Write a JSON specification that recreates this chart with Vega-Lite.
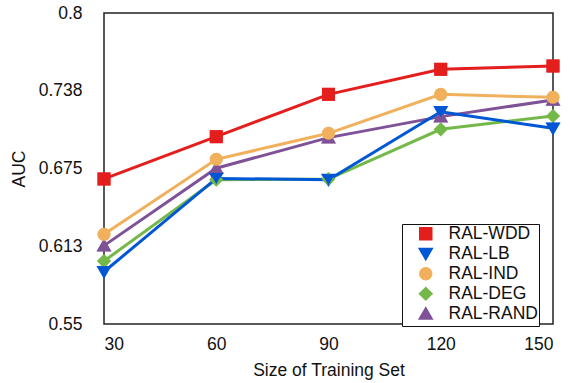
{
  "$schema": "https://vega.github.io/schema/vega-lite/v6.json",
  "autosize": {"type": "none"},
  "width": 449,
  "height": 311,
  "padding": {"left": 104, "top": 13, "right": 17, "bottom": 59},
  "background": "white",
  "config": {
    "view": {"stroke": "#222", "strokeWidth": 1.5},
    "font": "Liberation Sans",
    "axis": {
      "grid": false,
      "ticks": false,
      "domain": false,
      "labelFont": "Liberation Sans",
      "labelFontSize": 17.5,
      "labelColor": "#111",
      "titleFont": "Liberation Sans",
      "titleFontSize": 17.5,
      "titleFontWeight": "normal",
      "titleColor": "#111"
    },
    "legend": {
      "orient": "none",
      "legendX": 298,
      "legendY": 211,
      "padding": 1,
      "strokeColor": "#111",
      "fillColor": "white",
      "symbolSize": 110,
      "symbolStrokeWidth": 3,
      "symbolFillColor": "white",
      "symbolOffset": 14,
      "labelOffset": 14,
      "labelFont": "Liberation Sans",
      "labelFontSize": 17.5,
      "labelColor": "#111",
      "rowPadding": -3.1
    }
  },
  "data": {
    "values": [
      {"method": "RAL-RAND", "size": 30, "auc": 0.613},
      {"method": "RAL-RAND", "size": 60, "auc": 0.6752},
      {"method": "RAL-RAND", "size": 90, "auc": 0.6998},
      {"method": "RAL-RAND", "size": 120, "auc": 0.7167},
      {"method": "RAL-RAND", "size": 150, "auc": 0.7301},
      {"method": "RAL-DEG", "size": 30, "auc": 0.6006},
      {"method": "RAL-DEG", "size": 60, "auc": 0.666},
      {"method": "RAL-DEG", "size": 90, "auc": 0.6665},
      {"method": "RAL-DEG", "size": 120, "auc": 0.7065},
      {"method": "RAL-DEG", "size": 150, "auc": 0.7172},
      {"method": "RAL-IND", "size": 30, "auc": 0.6221},
      {"method": "RAL-IND", "size": 60, "auc": 0.6824},
      {"method": "RAL-IND", "size": 90, "auc": 0.7033},
      {"method": "RAL-IND", "size": 120, "auc": 0.7346},
      {"method": "RAL-IND", "size": 150, "auc": 0.7322},
      {"method": "RAL-LB", "size": 30, "auc": 0.592},
      {"method": "RAL-LB", "size": 60, "auc": 0.667},
      {"method": "RAL-LB", "size": 90, "auc": 0.666},
      {"method": "RAL-LB", "size": 120, "auc": 0.7206},
      {"method": "RAL-LB", "size": 150, "auc": 0.7073},
      {"method": "RAL-WDD", "size": 30, "auc": 0.6666},
      {"method": "RAL-WDD", "size": 60, "auc": 0.7006},
      {"method": "RAL-WDD", "size": 90, "auc": 0.7346},
      {"method": "RAL-WDD", "size": 120, "auc": 0.7547},
      {"method": "RAL-WDD", "size": 150, "auc": 0.7574}
    ]
  },
  "encoding": {
    "x": {
      "field": "size",
      "type": "quantitative",
      "title": "Size of Training Set",
      "scale": {"domain": [30, 150], "nice": false, "zero": false},
      "axis": {"values": [30, 60, 90, 120, 150], "labelPadding": 11, "titlePadding": 9}
    },
    "y": {
      "field": "auc",
      "type": "quantitative",
      "title": "AUC",
      "scale": {"domain": [0.55, 0.8], "nice": false, "zero": false},
      "axis": {
        "values": [0.55, 0.6125, 0.675, 0.7375, 0.8],
        "labelExpr": "datum.value < 0.56 ? '0.55' : datum.value < 0.62 ? '0.613' : datum.value < 0.68 ? '0.675' : datum.value < 0.75 ? '0.738' : '0.8'",
        "labelPadding": 22,
        "titlePadding": 10
      }
    }
  },
  "layer": [
    {
      "mark": {"type": "line", "strokeWidth": 3},
      "encoding": {
        "color": {
          "field": "method",
          "type": "nominal",
          "title": null,
          "scale": {
            "domain": ["RAL-WDD", "RAL-LB", "RAL-IND", "RAL-DEG", "RAL-RAND"],
            "range": ["#e41e1c", "#0057d6", "#f0b05c", "#74b84a", "#7f5196"]
          },
          "legend": {"labelExpr": "datum.label + '\u00a0\u00a0\u00a0\u00a0'"}
        }
      }
    },
    {
      "mark": {"type": "point", "filled": false, "size": 100, "strokeWidth": 3, "opacity": 1},
      "encoding": {
        "color": {
          "field": "method",
          "type": "nominal",
          "title": null,
          "legend": {"labelExpr": "datum.label + '\u00a0\u00a0\u00a0\u00a0'"}
        },
        "shape": {
          "field": "method",
          "type": "nominal",
          "title": null,
          "scale": {
            "domain": ["RAL-WDD", "RAL-LB", "RAL-IND", "RAL-DEG", "RAL-RAND"],
            "range": ["square", "triangle-down", "circle", "diamond", "triangle-up"]
          },
          "legend": {"labelExpr": "datum.label + '\u00a0\u00a0\u00a0\u00a0'"}
        }
      }
    },
    {
      "mark": {"type": "point", "filled": true, "size": 165, "opacity": 1},
      "encoding": {
        "fill": {
          "field": "method",
          "type": "nominal",
          "legend": null,
          "scale": {
            "domain": ["RAL-WDD", "RAL-LB", "RAL-IND", "RAL-DEG", "RAL-RAND"],
            "range": ["#e41e1c", "#0057d6", "#f0b05c", "#74b84a", "#7f5196"]
          }
        },
        "shape": {"field": "method", "type": "nominal", "title": null, "legend": null}
      }
    }
  ]
}
